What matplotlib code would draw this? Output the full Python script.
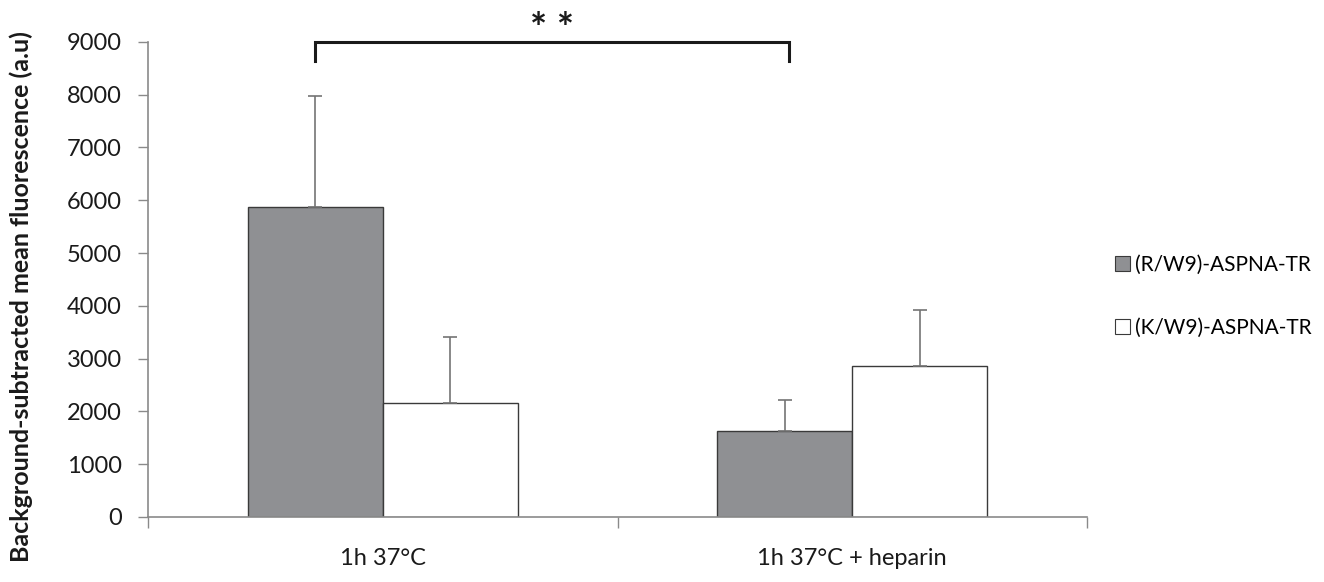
import matplotlib

matplotlib.use("Agg")
import matplotlib.pyplot as plt
import numpy as np
from matplotlib.patches import Patch

plt.rcParams["font.family"] = ["Lato", "DejaVu Sans"]

# dados
CONDICOES = ["1h 37°C", "1h 37°C + heparin"]
SERIES = ["(R/W9)-ASPNA-TR", "(K/W9)-ASPNA-TR"]
MEDIA_RW9 = [5880, 1620]
ERRO_RW9 = [2100, 600]
MEDIA_KW9 = [2160, 2860]
ERRO_KW9 = [1250, 1060]
Y_TICKS = [0, 1000, 2000, 3000, 4000, 5000, 6000, 7000, 8000, 9000]

CINZA = "#8f9093"
LARGURA = 0.2875
FONTE = 17

fig = plt.figure(figsize=(13.24, 5.82), dpi=100)
ax = fig.add_axes([0.1118, 0.1117, 0.7092, 0.8163])

x = np.arange(len(CONDICOES))
erro_kw = dict(ecolor="#747474", elinewidth=1.2, capsize=4.7, capthick=1.2)
ax.bar(x - LARGURA / 2, MEDIA_RW9, LARGURA, color=CINZA, edgecolor="#3a3a3a",
       linewidth=1.0, yerr=[np.zeros(2), ERRO_RW9], error_kw=erro_kw, zorder=2)
ax.bar(x + LARGURA / 2, MEDIA_KW9, LARGURA, color="white", edgecolor="#3a3a3a",
       linewidth=1.0, yerr=[np.zeros(2), ERRO_KW9], error_kw=erro_kw, zorder=2)

ax.set_xlim(-0.5, len(CONDICOES) - 0.5)
ax.set_ylim(0, 9000)
ax.set_yticks(Y_TICKS)
ax.tick_params(axis="y", labelsize=FONTE, length=7, color="#8a8a8a", width=1,
               pad=12, labelcolor="#1a1a1a")
ax.set_xticks(x)
ax.set_xticklabels(CONDICOES, fontsize=FONTE, color="#1a1a1a")
ax.tick_params(axis="x", length=0, pad=22)
ax.set_xticks([-0.5, 0.5, 1.5], minor=True)
ax.tick_params(axis="x", which="minor", length=8, color="#8a8a8a", width=1)
for lado in ["top", "right"]:
    ax.spines[lado].set_visible(False)
for lado in ["left", "bottom"]:
    ax.spines[lado].set_color("#8a8a8a")
    ax.spines[lado].set_linewidth(1.2)
ax.set_ylabel("Background-subtracted mean fluorescence (a.u)", fontsize=18,
              fontweight="bold", color="#1a1a1a")
ax.yaxis.set_label_coords(-0.1225, 0.463)

# colchete de significancia
x1 = x[0] - LARGURA / 2
x2 = x[1] - LARGURA / 2 + 0.008
ax.plot([x1, x1, x2, x2], [8640, 9000, 9000, 8640], color="#1a1a1a",
        linewidth=2.2, clip_on=False, solid_joinstyle="miter")
ax.text((x1 + x2) / 2, 9000, "* *", ha="center", va="baseline", fontsize=29,
        fontweight="bold", color="#1a1a1a", clip_on=False)

handles = [Patch(facecolor=CINZA, edgecolor="#3a3a3a", linewidth=0.8),
           Patch(facecolor="white", edgecolor="#3a3a3a", linewidth=0.8)]
fig.legend(handles, SERIES, loc="center left", bbox_to_anchor=(0.842, 0.4905),
           frameon=False, fontsize=15, handlelength=0.72, handleheight=0.72,
           handletextpad=0.25, labelspacing=2.05, borderpad=0, borderaxespad=0)

fig.savefig("out.png", dpi=100)
plt.close(fig)
